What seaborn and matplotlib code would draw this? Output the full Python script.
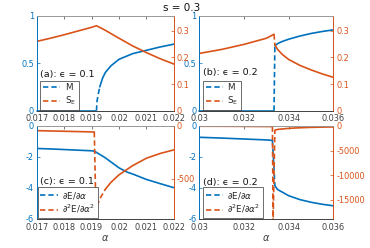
import matplotlib
matplotlib.use('Agg')
import matplotlib.pyplot as plt
import seaborn as sns
from matplotlib.lines import Line2D
from matplotlib.ticker import FuncFormatter

BLUE = '#0072BD'
ORANGE = '#D95319'
GREY = '#404040'

# ---- panel (a): eps = 0.1, order parameter and entropy ----
alpha_a_lo = [0.017, 0.0175, 0.018, 0.0185, 0.019, 0.01918]
m_a_lo = [0, 0, 0, 0, 0, 0]
alpha_a_hi = [0.01918, 0.0192, 0.01925, 0.0193, 0.0194, 0.0195, 0.0197, 0.02, 0.0205, 0.021, 0.0215, 0.022]
m_a_hi = [0, 0.1, 0.18, 0.25, 0.34, 0.40, 0.47, 0.54, 0.60, 0.635, 0.67, 0.70]
alpha_a_se = [0.017, 0.0175, 0.018, 0.0185, 0.019, 0.01918, 0.0195, 0.02, 0.0205, 0.021, 0.0215, 0.022]
se_a = [0.26, 0.272, 0.285, 0.299, 0.313, 0.319, 0.302, 0.272, 0.243, 0.218, 0.195, 0.175]

# ---- panel (b): eps = 0.2 ----
alpha_b_lo = [0.03, 0.031, 0.032, 0.033, 0.03334]
m_b_lo = [0, 0, 0, 0, 0]
se_b_lo = [0.215, 0.23, 0.249, 0.272, 0.287]
alpha_b_hi = [0.03338, 0.0335, 0.0337, 0.034, 0.0345, 0.035, 0.0355, 0.036]
m_b_hi = [0.684, 0.705, 0.727, 0.752, 0.785, 0.812, 0.833, 0.85]
se_b_hi = [0.247, 0.230, 0.212, 0.192, 0.170, 0.153, 0.138, 0.125]

# ---- panel (c): eps = 0.1, derivatives ----
alpha_c_lo = [0.017, 0.0175, 0.018, 0.0185, 0.019, 0.0191]
de_c_lo = [-1.45, -1.48, -1.52, -1.56, -1.60, -1.62]
d2e_c_lo = [-44, -47, -50, -53, -56, -57]
alpha_c_hi = [0.0191, 0.0195, 0.02, 0.0203, 0.0205, 0.021, 0.0215, 0.022]
de_c_hi = [-1.62, -2.05, -2.7, -2.98, -3.1, -3.45, -3.72, -3.98]
alpha_c_d2 = [0.01916, 0.0192, 0.0193, 0.0195, 0.0197, 0.02, 0.0205, 0.021, 0.0215, 0.022]
d2e_c_hi = [-800, -760, -690, -600, -535, -462, -375, -305, -260, -226]

# ---- panel (d): eps = 0.2, derivatives ----
alpha_d_lo = [0.03, 0.031, 0.032, 0.033, 0.03327]
de_d_lo = [-0.73, -0.78, -0.84, -0.90, -0.93]
d2e_d_lo = [-50, -60, -80, -110, -120]
alpha_d_spike = [0.03327, 0.0333, 0.03338]
d2e_d_spike = [-120, -19500, -850]
alpha_d_hi = [0.03338, 0.0335, 0.034, 0.0345, 0.035, 0.0355, 0.036]
de_d_hi = [-3.85, -4.1, -4.5, -4.75, -4.92, -5.05, -5.15]
d2e_d_hi = [-850, -700, -480, -360, -280, -230, -190]

sns.set_theme(style='white')
plt.rcParams['font.family'] = ['DejaVu Sans']
plt.rcParams['mathtext.fontset'] = 'dejavusans'

DASH = (0, (3.2, 1.8))
LW = 1.2


def line(ax, x, y, color, dashed=False, clip=True):
    sns.lineplot(x=x, y=y, ax=ax, color=color, linewidth=LW, estimator=None,
                 sort=False, linestyle=DASH if dashed else '-', clip_on=clip)


fmt = FuncFormatter(lambda v, p: f'{v:g}')


def style(ax, ax2, xlim, xticks, lylim, lticks, rylim, rticks):
    ax.set_xlim(xlim)
    ax.set_ylim(lylim)
    ax2.set_ylim(rylim)
    ax.set_xticks(xticks)
    ax.set_yticks(lticks)
    ax2.set_yticks(rticks)
    for a in (ax, ax2):
        a.xaxis.set_major_formatter(fmt)
        a.yaxis.set_major_formatter(fmt)
        a.set_ylabel('')
    ax.set_xlabel('')
    ax.tick_params(axis='x', direction='in', length=2, width=0.5, colors=GREY,
                   labelsize=5.9, top=True, pad=2.6)
    ax.tick_params(axis='y', direction='in', length=2, width=0.5, colors=BLUE,
                   labelsize=5.9, pad=2)
    ax2.tick_params(axis='y', direction='in', length=2, width=0.5, colors=ORANGE,
                    labelsize=5.9, pad=2)
    for a in (ax, ax2):
        a.spines['top'].set_color('#999999')
        a.spines['bottom'].set_color(GREY)
        a.spines['left'].set_color(BLUE)
        a.spines['right'].set_color(ORANGE)
        for s in a.spines.values():
            s.set_linewidth(0.6)
    ax2.patch.set_visible(False)


def legend(ax2, labels, tag, ty, width_anchor=0.02):
    handles = [Line2D([], [], color=BLUE, lw=LW, ls=DASH),
               Line2D([], [], color=ORANGE, lw=LW, ls=DASH)]
    leg = ax2.legend(handles, labels, loc='lower left', bbox_to_anchor=(width_anchor, 0.0),
                     fontsize=6.3, frameon=True, fancybox=False, edgecolor='#333333',
                     handlelength=2.0, handletextpad=0.5, borderpad=0.3,
                     labelspacing=0.25, borderaxespad=0.1)
    leg.get_frame().set_linewidth(0.5)
    leg.get_frame().set_alpha(1)
    ax2.text(0.025, ty, tag, transform=ax2.transAxes, fontsize=6.8, va='center',
             color='#111111')


fig = plt.figure(figsize=(3.7, 2.48), dpi=100)
ax_a = fig.add_axes([0.099, 0.554, 0.371, 0.383])
ax_b = fig.add_axes([0.539, 0.554, 0.362, 0.383])
ax_c = fig.add_axes([0.099, 0.117, 0.371, 0.375])
ax_d = fig.add_axes([0.539, 0.117, 0.362, 0.375])

# (a)
a2 = ax_a.twinx()
line(ax_a, alpha_a_lo, m_a_lo, BLUE, clip=False)
line(ax_a, alpha_a_hi[:4], m_a_hi[:4], BLUE, dashed=True)
line(ax_a, alpha_a_hi[3:], m_a_hi[3:], BLUE)
line(a2, alpha_a_se, se_a, ORANGE)
style(ax_a, a2, (0.017, 0.022), [0.017, 0.018, 0.019, 0.02, 0.021, 0.022],
      (0, 1), [0, 0.5, 1], (0, 0.357), [0, 0.1, 0.2, 0.3])
legend(a2, ['M', r'S$_\mathrm{E}$'], '(a): ϵ = 0.1', 0.385)

# (b)
b2 = ax_b.twinx()
line(ax_b, alpha_b_lo, m_b_lo, BLUE, clip=False)
line(ax_b, [alpha_b_lo[-1], alpha_b_hi[0]], [m_b_lo[-1], m_b_hi[0]], BLUE, dashed=True)
line(ax_b, alpha_b_hi, m_b_hi, BLUE)
line(b2, alpha_b_lo, se_b_lo, ORANGE)
line(b2, [alpha_b_lo[-1], alpha_b_hi[0]], [se_b_lo[-1], se_b_hi[0]], ORANGE, dashed=True)
line(b2, alpha_b_hi, se_b_hi, ORANGE)
style(ax_b, b2, (0.03, 0.036), [0.03, 0.032, 0.034, 0.036],
      (0, 1), [0, 0.5, 1], (0, 0.357), [0, 0.1, 0.2, 0.3])
legend(b2, ['M', r'S$_\mathrm{E}$'], '(b): ϵ = 0.2', 0.40)

# (c)
c2 = ax_c.twinx()
line(ax_c, alpha_c_lo, de_c_lo, BLUE)
line(ax_c, alpha_c_hi, de_c_hi, BLUE)
line(c2, alpha_c_lo, d2e_c_lo, ORANGE)
line(c2, [alpha_c_lo[-1]] + alpha_c_d2[:4], [d2e_c_lo[-1]] + d2e_c_hi[:4], ORANGE, dashed=True)
line(c2, alpha_c_d2[3:], d2e_c_hi[3:], ORANGE)
style(ax_c, c2, (0.017, 0.022), [0.017, 0.018, 0.019, 0.02, 0.021, 0.022],
      (-6, 0), [-6, -4, -2, 0], (-880, 0), [-500, 0])
legend(c2, [r'$\partial$E/$\partial\alpha$', r'$\partial^2$E/$\partial\alpha^2$'],
       '(c): ϵ = 0.1', 0.40, width_anchor=0.0)
ax_c.set_xlabel(r'$\alpha$', fontsize=7, labelpad=1, color=GREY)

# (d)
d2 = ax_d.twinx()
line(ax_d, alpha_d_lo, de_d_lo, BLUE)
line(ax_d, [alpha_d_lo[-1], alpha_d_hi[0]], [de_d_lo[-1], de_d_hi[0]], BLUE, dashed=True)
line(ax_d, alpha_d_hi, de_d_hi, BLUE)
line(d2, alpha_d_lo, d2e_d_lo, ORANGE)
line(d2, alpha_d_spike, d2e_d_spike, ORANGE, dashed=True)
line(d2, alpha_d_hi, d2e_d_hi, ORANGE)
style(ax_d, d2, (0.03, 0.036), [0.03, 0.032, 0.034, 0.036],
      (-6, 0), [-6, -4, -2, 0], (-18900, 0), [-15000, -10000, -5000, 0])
legend(d2, [r'$\partial$E/$\partial\alpha$', r'$\partial^2$E/$\partial\alpha^2$'],
       '(d): ϵ = 0.2', 0.395)
ax_d.set_xlabel(r'$\alpha$', fontsize=7, labelpad=1, color=GREY)

fig.text(0.492, 0.968, 's = 0.3', ha='center', va='center', fontsize=7.5, color='#111111')

fig.savefig('out.png', dpi=100)
